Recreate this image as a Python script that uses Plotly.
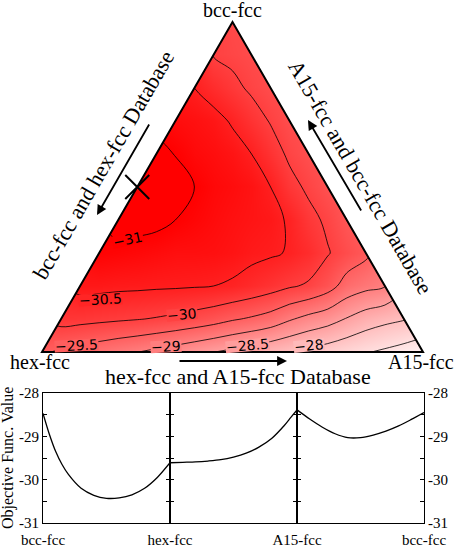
import math
import plotly.graph_objects as go

W, H = 457, 547

# ---------------- data ----------------
vertex_labels = {"left": "hex-fcc", "right": "A15-fcc", "top": "bcc-fcc"}
edge_bottom_label = "hex-fcc and A15-fcc Database"
edge_right_label = "A15-fcc and bcc-fcc Database"
edge_left_label = "bcc-fcc and hex-fcc Database"

# Objective function value, row by row from the
# hex-fcc/A15-fcc edge (row 0) up to the bcc-fcc vertex (row 10);
# row k has 21-2k points, evenly spaced between the two edges.
z_row0 = [-29.55, -29.44, -29.33, -29.22, -29.11, -29.01, -28.89, -28.77, -28.64, -28.51, -28.39,
          -28.26, -28.13, -28.01, -27.88, -27.76, -27.64, -27.53, -27.43, -27.32, -27.20]
z_row1 = [-30.17, -30.14, -30.10, -30.06, -30.02, -29.97, -29.90, -29.81, -29.70, -29.55,
          -29.44, -29.30, -29.05, -28.85, -28.70, -28.47, -28.25, -28.12, -28.03]
z_row2 = [-30.64, -30.62, -30.59, -30.58, -30.56, -30.55, -30.53, -30.50, -30.44,
          -30.33, -30.20, -30.05, -29.94, -29.70, -29.30, -29.13, -29.02]
z_row3 = [-30.95, -30.91, -30.87, -30.82, -30.77, -30.77, -30.75, -30.69,
          -30.60, -30.55, -30.47, -30.30, -30.03, -29.80, -29.60]
z_row4 = [-31.15, -31.13, -31.10, -31.00, -30.91, -30.82, -30.74,
          -30.68, -30.62, -30.45, -30.13, -29.92, -29.65]
z_row5 = [-31.30, -31.20, -31.10, -31.00, -30.87, -30.80, -30.70, -30.50, -30.14, -29.92, -29.72]
z_row6 = [-31.10, -30.99, -30.85, -30.78, -30.68, -30.50, -30.21, -29.92, -29.75]
z_row7 = [-30.80, -30.74, -30.65, -30.45, -30.20, -29.97, -29.78]
z_row8 = [-30.50, -30.30, -30.11, -29.93, -29.80]
z_row9 = [-29.98, -29.90, -29.82]
z_row10 = [-29.85]
z_rows = [z_row0, z_row1, z_row2, z_row3, z_row4, z_row5, z_row6,
          z_row7, z_row8, z_row9, z_row10]

contour_start, contour_end, contour_step = -31.0, -27.5, 0.5
color_min, color_max = -31.0, -27.0

# contour labels shown on the map
contour_label_text = ["\u221231", "\u221230.5", "\u221230", "\u221229.5", "\u221229", "\u221228.5", "\u221228"]

# Objective value along each database path (fraction along the path)
frac_1 = [0, 0.05, 0.1, 0.15, 0.2, 0.3, 0.4, 0.5, 0.6, 0.7, 0.8, 0.9, 1.0]
obj_1 = [-28.47, -28.95, -29.35, -29.65, -29.88, -30.20, -30.36, -30.43, -30.42, -30.35, -30.20, -29.95, -29.61]
frac_2 = [0, 0.1, 0.2, 0.3, 0.4, 0.5, 0.6, 0.7, 0.8, 0.9, 0.95, 1.0]
obj_2 = [-29.61, -29.60, -29.59, -29.57, -29.54, -29.48, -29.39, -29.25, -29.05, -28.75, -28.57, -28.39]
frac_3 = [0, 0.1, 0.2, 0.3, 0.4, 0.5, 0.6, 0.7, 0.8, 0.9, 1.0]
obj_3 = [-28.39, -28.60, -28.79, -28.94, -29.03, -29.03, -28.97, -28.88, -28.76, -28.61, -28.45]
panel_start = ["bcc-fcc", "hex-fcc", "A15-fcc"]
panel_end = ["hex-fcc", "A15-fcc", "bcc-fcc"]
y_major = [-28, -29, -30, -31]
y_major_text = ["-28", "-29", "-30", "-31"]
y_minor = [-28.5, -29.5, -30.5]
y_title = "Objective Func. Value"

# ---------------- layout helpers ----------------
SERIF = "Liberation Serif"


def px_x(p):
    return p / W


def px_y(p):
    return 1 - p / H


h = math.sqrt(3) / 2
S = 381.0             # pixels per unit for the triangle
X0, Y0 = 42.0, 352.0  # pixel position of hex-fcc corner
pad = 0.06

fig = go.Figure()

# ---------------- ternary field ----------------
n = len(z_rows) - 1
n_col = len(z_rows[0]) - 1
lx, ly, lz = [], [], []
for k, row in enumerate(z_rows):
    for j, v in enumerate(row):
        lx.append(round((k + j) / n_col, 6))
        ly.append(round(k * h / n, 6))
        lz.append(v)

fig.add_trace(go.Heatmap(
    x=lx, y=ly, z=lz, zsmooth="best", connectgaps=True,
    colorscale=[[0, "rgb(255,0,0)"], [1, "rgb(255,255,255)"]],
    zmin=color_min, zmax=color_max, showscale=False, hoverinfo="skip",
    xaxis="x", yaxis="y"))

fig.add_trace(go.Contour(
    x=lx, y=ly, z=lz, connectgaps=True,
    contours=dict(start=contour_start, end=contour_end, size=contour_step,
                  coloring="none", showlabels=False),
    line=dict(color="black", width=0.8, smoothing=1),
    showscale=False, hoverinfo="skip", xaxis="x", yaxis="y"))

# white masks outside the triangle (each polygon its own trace)
L, R, B, T = -0.5, 1.5, -0.5, 1.5
mask_polys = [
    ([L, 0, 0.5, R, L, L], [B, 0, h, T, T, B]),          # left of left edge + top
    ([R, 1, 0.5, L, R, R], [B, 0, h, T, T, B]),          # right of right edge + top
    ([L, R, R, L, L], [B, B, 0, 0, B]),                  # below bottom edge
]
for mx, my in mask_polys:
    fig.add_trace(go.Scatter(
        x=mx, y=my, mode="lines", fill="toself", fillcolor="white",
        line=dict(width=0, color="white"), hoverinfo="skip", showlegend=False,
        xaxis="x", yaxis="y"))

# minimum along bcc-fcc -> hex-fcc path
t_min = frac_1[obj_1.index(min(obj_1))]
fig.add_trace(go.Scatter(
    x=[0.5 * (1 - t_min)], y=[h * (1 - t_min)], mode="markers",
    marker=dict(symbol="x-thin", size=24, color="black",
                line=dict(width=2, color="black")),
    hoverinfo="skip", showlegend=False, xaxis="x", yaxis="y"))

layout_axes = {}
layout_axes["xaxis"] = dict(
    domain=[px_x(X0 - pad * S), px_x(X0 + (1 + pad) * S)],
    range=[-pad, 1 + pad], visible=False, anchor="y", automargin=False)
layout_axes["yaxis"] = dict(
    domain=[max(0, px_y(Y0 + pad * S)), min(1, px_y(Y0 - (h + pad) * S))],
    range=[-pad, min(h + pad, Y0 / S)], visible=False, anchor="x", automargin=False)

shapes = [
    dict(type="path", xref="x", yref="y",
         path=f"M 0,0 L 0.5,{h} L 1,0 Z",
         fillcolor="rgba(0,0,0,0)", line=dict(color="black", width=2), layer="above"),
]

# ---------------- line panels ----------------
bx = [43, 170, 297, 424]
by_top, by_bot = 393, 523
panels = [(frac_1, obj_1), (frac_2, obj_2), (frac_3, obj_3)]
for i, (fx, fy) in enumerate(panels):
    a = i + 2
    fig.add_trace(go.Scatter(
        x=fx, y=fy, mode="lines",
        line=dict(color="black", width=1.3, shape="spline", smoothing=0.8),
        hoverinfo="skip", showlegend=False, xaxis=f"x{a}", yaxis=f"y{a}"))
    if i == 0:
        tv, tt = [0, 1], [panel_start[0], panel_end[0]]
    else:
        tv, tt = [1], [panel_end[i]]
    layout_axes[f"xaxis{a}"] = dict(
        domain=[px_x(bx[i]), px_x(bx[i + 1])], range=[0, 1], anchor=f"y{a}",
        showline=True, linecolor="black", linewidth=1.2, mirror=True,
        ticks="", showgrid=False, zeroline=False, automargin=False,
        tickvals=tv, ticktext=tt, ticklabelstandoff=3,
        tickfont=dict(family=SERIF, size=15, color="black"))
    layout_axes[f"yaxis{a}"] = dict(
        domain=[px_y(by_bot), px_y(by_top)], range=[-31, -28], anchor=f"x{a}",
        showline=True, linecolor="black", linewidth=1.2, mirror="allticks",
        ticks="inside", ticklen=4, tickwidth=1, tickcolor="black",
        tickvals=y_major, ticktext=y_major_text,
        minor=dict(tickvals=y_minor, ticks="inside", ticklen=4,
                   tickwidth=1, tickcolor="black", showgrid=False),
        showgrid=False, zeroline=False, automargin=False,
        showticklabels=(i != 1), side=("right" if i == 2 else "left"),
        tickfont=dict(family=SERIF, size=15, color="black"))

# ---------------- annotations ----------------
ann = []


def label(text, x, y, size, angle=0, family=SERIF, bg=None, box_h=None):
    d = dict(text=text, x=px_x(x), y=px_y(y), xref="paper", yref="paper",
             showarrow=False, xanchor="center", yanchor="middle",
             textangle=angle, font=dict(family=family, size=size, color="black"))
    if bg is not None:
        d.update(bgcolor=bg, borderpad=0)
    if box_h is not None:
        d.update(height=box_h)
    ann.append(d)


def arrow(tail, head):
    ann.append(dict(text="", x=px_x(head[0]), y=px_y(head[1]), xref="paper", yref="paper",
                    ax=tail[0] - head[0], ay=tail[1] - head[1],
                    showarrow=True, arrowhead=2, arrowsize=1.1, arrowwidth=1.8,
                    arrowcolor="black"))


def field_at(px, py):
    """Bilinear value of the map at a pixel position (for label backgrounds)."""
    xd = (px - X0) / S
    yd = (Y0 - py) / S
    kf = max(0.0, min(n, yd / (h / n)))
    k0 = min(int(kf), n - 1)
    tk = kf - k0

    def row_val(k):
        row = z_rows[k]
        if len(row) == 1:
            return row[0]
        m = xd * n_col - k
        m = max(0.0, min(len(row) - 1, m))
        m0 = min(int(m), len(row) - 2)
        tm = m - m0
        return row[m0] * (1 - tm) + row[m0 + 1] * tm

    return row_val(k0) * (1 - tk) + row_val(k0 + 1) * tk


def field_color(v):
    f = min(1.0, max(0.0, (v - color_min) / (color_max - color_min)))
    g = int(round(255 * f))
    return f"rgb(255,{g},{g})"


# contour labels (centre pixel, tilt)
contour_label_pos = [(128, 240, -12), (100, 299, -3), (182, 314, -5), (76, 345, -3),
                     (166, 346, -3), (247, 345, -5), (309, 345, -6)]
for txt, (cx, cy, ang) in zip(contour_label_text, contour_label_pos):
    label(txt, cx, cy, 14, ang, family="DejaVu Sans",
          bg=field_color(field_at(cx, cy)), box_h=11)

label(vertex_labels["top"], 232, 10, 20)
label(vertex_labels["left"], 40, 362, 20)
label(vertex_labels["right"], 421, 362, 20)
label(edge_bottom_label, 238, 376, 22)
label(edge_left_label, 104, 165, 22, -60)
label(edge_right_label, 361, 177, 22, 60)
label(y_title, 8, 458, 16, -90)
arrow((178, 361), (287, 361))
arrow((150, 123), (97, 215))
arrow((362, 212), (308, 120))

fig.update_layout(
    width=W, height=H, margin=dict(l=0, r=0, t=0, b=0, autoexpand=False),
    paper_bgcolor="white", plot_bgcolor="rgba(0,0,0,0)",
    showlegend=False, shapes=shapes, annotations=ann,
    font=dict(family=SERIF, color="black"),
    **layout_axes)

fig.write_html("out.html", config={"displayModeBar": False},
               post_script="document.body.style.margin='0px';")
